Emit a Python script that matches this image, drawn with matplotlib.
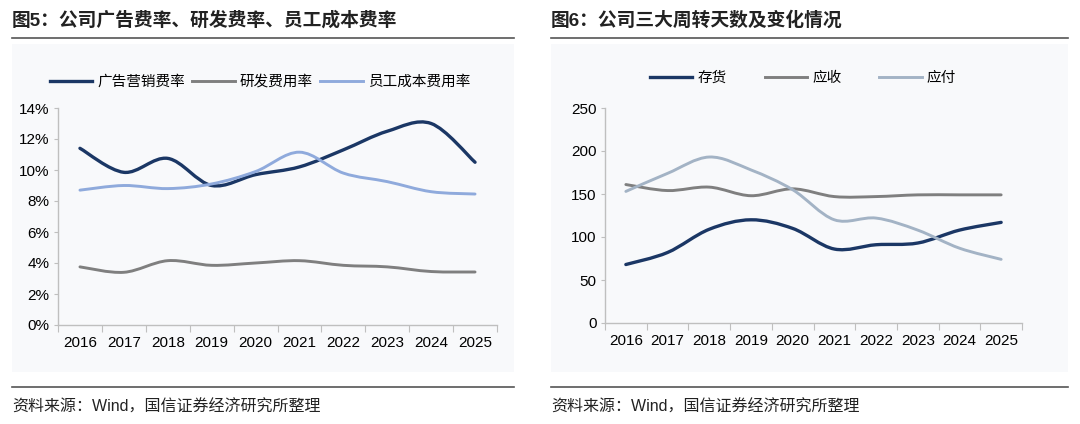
import matplotlib
matplotlib.use("Agg")
import matplotlib.pyplot as plt
from matplotlib.path import Path
from matplotlib.patches import PathPatch, Rectangle
from matplotlib.lines import Line2D
from matplotlib.ticker import FuncFormatter

plt.rcParams['font.family'] = ['Liberation Sans', 'Noto Sans CJK SC']

# data
years = ["2016", "2017", "2018", "2019", "2020", "2021", "2022", "2023", "2024", "2025"]

ad_rate = [11.4, 9.85, 10.75, 9.0, 9.7, 10.2, 11.3, 12.5, 13.0, 10.5]
rd_rate = [3.75, 3.4, 4.15, 3.85, 4.0, 4.15, 3.85, 3.75, 3.45, 3.42]
staff_rate = [8.7, 9.0, 8.8, 9.1, 9.9, 11.15, 9.8, 9.25, 8.6, 8.45]

inventory_days = [68, 82, 109, 120, 110, 86, 91, 93, 108, 117]
receivable_days = [161, 154, 158, 148, 156, 147, 147, 149, 149, 149]
payable_days = [153, 174, 193, 178, 155, 120, 122, 108, 87, 74]

NAVY = "#1b3765"
GRAY = "#7f7f7f"
LIGHTBLUE = "#8faadc"
BLUEGRAY = "#a3b3c5"
AXIS = "#bfbfbf"
W, H = 1080, 424


def smooth_line(ax, ys, color, lw):
    # excel style smoothed line: cubic bezier through each point
    xs = list(range(len(ys)))
    pts = list(zip(xs, ys))
    verts = [pts[0]]
    codes = [Path.MOVETO]
    n = len(pts)
    for i in range(n - 1):
        p0 = pts[i - 1] if i > 0 else pts[i]
        p1 = pts[i]
        p2 = pts[i + 1]
        p3 = pts[i + 2] if i + 2 < n else pts[i + 1]
        c1 = (p1[0] + (p2[0] - p0[0]) / 6, p1[1] + (p2[1] - p0[1]) / 6)
        c2 = (p2[0] - (p3[0] - p1[0]) / 6, p2[1] - (p3[1] - p1[1]) / 6)
        verts += [c1, c2, p2]
        codes += [Path.CURVE4] * 3
    ax.add_patch(PathPatch(Path(verts, codes), fill=False, edgecolor=color,
                           lw=lw, capstyle='round', joinstyle='round', zorder=3))


def px_axes(fig, x0, x1, ytop, ybot):
    return fig.add_axes([x0 / W, (H - ybot) / H, (x1 - x0) / W, (ybot - ytop) / H])


def style_axes(ax, ymax, ystep, fmt):
    ax.set_facecolor("none")
    ax.set_xlim(-0.5, len(years) - 0.5)
    ax.set_ylim(0, ymax)
    for s in ["top", "right"]:
        ax.spines[s].set_visible(False)
    for s in ["left", "bottom"]:
        ax.spines[s].set_color(AXIS)
        ax.spines[s].set_linewidth(1.0)
    ax.set_xticks([i - 0.5 for i in range(len(years) + 1)])
    ax.set_xticklabels([])
    ax.set_xticks(range(len(years)), minor=True)
    ax.set_xticklabels(years, minor=True, fontsize=11)
    ax.tick_params(axis='x', which='major', length=5, color=AXIS, direction='out')
    ax.tick_params(axis='x', which='minor', length=0, pad=8)
    ax.set_yticks([ystep * i for i in range(int(ymax / ystep) + 1)])
    ax.yaxis.set_major_formatter(FuncFormatter(fmt))
    ax.tick_params(axis='y', length=3, color=AXIS, labelsize=11, pad=3)


fig = plt.figure(figsize=(W / 100, H / 100), dpi=100)
fig.patch.set_facecolor("white")

# light panels behind both charts
for x0, x1 in [(12, 514), (551, 1068)]:
    fig.patches.append(Rectangle((x0 / W, (H - 372) / H), (x1 - x0) / W, (372 - 44) / H,
                                 transform=fig.transFigure, facecolor="#f8f9fb",
                                 edgecolor="none", zorder=-1))
    # title and source rules
    fig.add_artist(Line2D([x0 / W, x1 / W], [(H - 38) / H] * 2, color="#555555", lw=1.2))
    fig.add_artist(Line2D([x0 / W, x1 / W], [(H - 387) / H] * 2, color="#555555", lw=1.2))
    fig.text(x0 / W, (H - 407) / H, "资料来源：Wind，国信证券经济研究所整理",
             fontsize=11.5, va='center', ha='left', color="#222222")

fig.text(12 / W, (H - 20) / H, "图5：公司广告费率、研发费率、员工成本费率",
         fontsize=13.5, fontweight='bold', va='center', ha='left', color="#222222")
fig.text(551 / W, (H - 20) / H, "图6：公司三大周转天数及变化情况",
         fontsize=13.5, fontweight='bold', va='center', ha='left', color="#222222")

# left chart
ax1 = px_axes(fig, 58, 497, 108, 325)
style_axes(ax1, 14, 2, lambda v, p: f"{v:.0f}%")
smooth_line(ax1, ad_rate, NAVY, 2.4)
smooth_line(ax1, rd_rate, GRAY, 2.1)
smooth_line(ax1, staff_rate, LIGHTBLUE, 2.1)
h1 = [Line2D([], [], color=NAVY, lw=2.4), Line2D([], [], color=GRAY, lw=2.1),
      Line2D([], [], color=LIGHTBLUE, lw=2.1)]
fig.legend(h1, ["广告营销费率", "研发费用率", "员工成本费用率"], loc='center',
           bbox_to_anchor=(260 / W, (H - 82) / H), ncol=3, frameon=False,
           fontsize=10.5, handlelength=2.9, handletextpad=0.35, columnspacing=0.5)

# right chart
ax2 = px_axes(fig, 605, 1022, 108, 323)
style_axes(ax2, 250, 50, lambda v, p: f"{v:.0f}")
smooth_line(ax2, inventory_days, NAVY, 2.4)
smooth_line(ax2, receivable_days, GRAY, 2.1)
smooth_line(ax2, payable_days, BLUEGRAY, 2.1)
h2 = [Line2D([], [], color=NAVY, lw=2.4), Line2D([], [], color=GRAY, lw=2.1),
      Line2D([], [], color=BLUEGRAY, lw=2.1)]
fig.legend(h2, ["存货", "应收", "应付"], loc='center',
           bbox_to_anchor=(803 / W, (H - 78) / H), ncol=3, frameon=False,
           fontsize=10.5, handlelength=2.9, handletextpad=0.35, columnspacing=2.6)

fig.savefig("out.png", dpi=100)
